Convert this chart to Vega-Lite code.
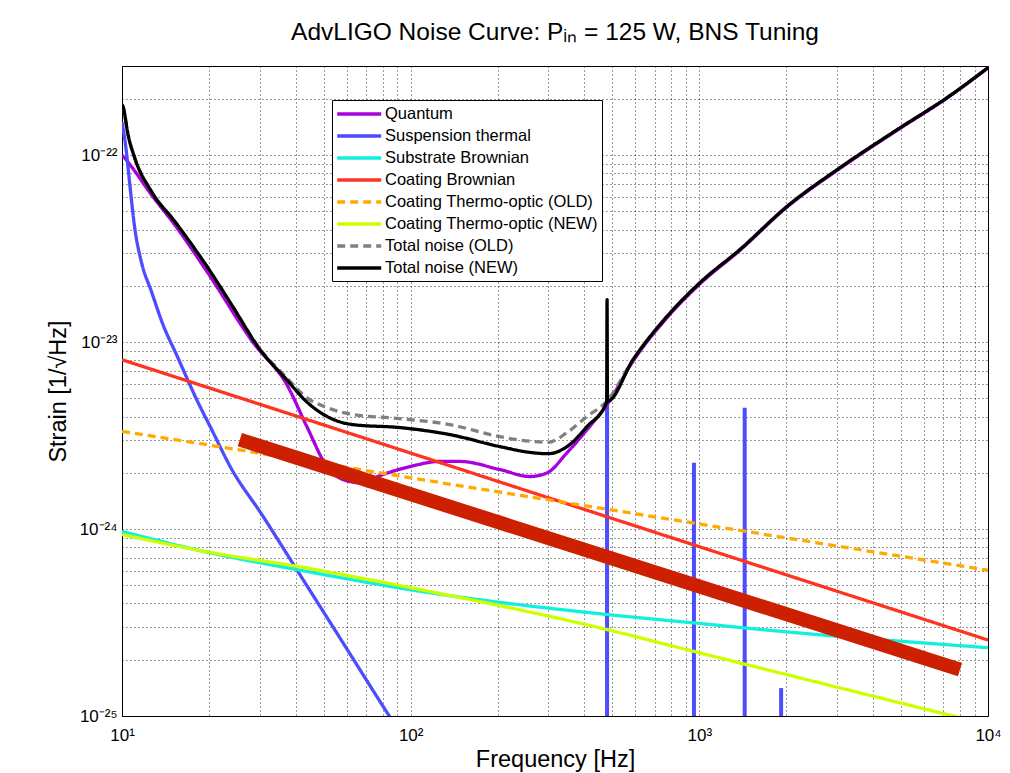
{
  "$schema": "https://vega.github.io/schema/vega-lite/v6.json",
  "autosize": {"type": "none"},
  "padding": {"left": 122, "top": 66, "right": 22, "bottom": 57},
  "width": 866,
  "height": 650,
  "background": "white",
  "title": {"text": "AdvLIGO Noise Curve: Pᵢₙ = 125 W, BNS Tuning", "fontSize": 24.5, "font": "Liberation Sans", "fontWeight": "normal", "offset": 21, "anchor": "middle", "color": "black"},
  "datasets": {
    "curves": [
      {"series": "Quantum", "freq": 10, "strain": 1.0e-22},
      {"series": "Quantum", "freq": 10.22, "strain": 9.66e-23},
      {"series": "Quantum", "freq": 10.77, "strain": 8.71e-23},
      {"series": "Quantum", "freq": 12.64, "strain": 6.15e-23},
      {"series": "Quantum", "freq": 15.22, "strain": 4.25e-23},
      {"series": "Quantum", "freq": 19.86, "strain": 2.34e-23},
      {"series": "Quantum", "freq": 28.4, "strain": 1.0e-23},
      {"series": "Quantum", "freq": 37.3, "strain": 5.9e-24},
      {"series": "Quantum", "freq": 43.7, "strain": 3.53e-24},
      {"series": "Quantum", "freq": 51.3, "strain": 2.16e-24},
      {"series": "Quantum", "freq": 58.3, "strain": 1.84e-24},
      {"series": "Quantum", "freq": 66.8, "strain": 1.77e-24},
      {"series": "Quantum", "freq": 80.2, "strain": 1.96e-24},
      {"series": "Quantum", "freq": 99.5, "strain": 2.16e-24},
      {"series": "Quantum", "freq": 126.4, "strain": 2.30e-24},
      {"series": "Quantum", "freq": 148, "strain": 2.30e-24},
      {"series": "Quantum", "freq": 204, "strain": 2.08e-24},
      {"series": "Quantum", "freq": 259, "strain": 1.91e-24},
      {"series": "Quantum", "freq": 297, "strain": 2.0e-24},
      {"series": "Quantum", "freq": 348, "strain": 2.56e-24},
      {"series": "Quantum", "freq": 408, "strain": 3.40e-24},
      {"series": "Quantum", "freq": 479, "strain": 4.63e-24},
      {"series": "Quantum", "freq": 589, "strain": 7.9e-24},
      {"series": "Quantum", "freq": 772, "strain": 1.35e-23},
      {"series": "Quantum", "freq": 1005, "strain": 2.05e-23},
      {"series": "Quantum", "freq": 1383, "strain": 3.1e-23},
      {"series": "Quantum", "freq": 2013, "strain": 5.28e-23},
      {"series": "Quantum", "freq": 3070, "strain": 8.5e-23},
      {"series": "Quantum", "freq": 4955, "strain": 1.39e-22},
      {"series": "Quantum", "freq": 7210, "strain": 2.02e-22},
      {"series": "Quantum", "freq": 10000, "strain": 2.93e-22},

      {"series": "Suspension thermal", "freq": 10, "strain": 1.5e-22},
      {"series": "Suspension thermal", "freq": 10.08, "strain": 1.40e-22},
      {"series": "Suspension thermal", "freq": 10.35, "strain": 1.05e-22},
      {"series": "Suspension thermal", "freq": 10.63, "strain": 7.1e-23},
      {"series": "Suspension thermal", "freq": 11.07, "strain": 4.08e-23},
      {"series": "Suspension thermal", "freq": 11.66, "strain": 2.70e-23},
      {"series": "Suspension thermal", "freq": 12.64, "strain": 1.87e-23},
      {"series": "Suspension thermal", "freq": 13.87, "strain": 1.24e-23},
      {"series": "Suspension thermal", "freq": 15.5, "strain": 8.47e-24},
      {"series": "Suspension thermal", "freq": 18.14, "strain": 4.93e-24},
      {"series": "Suspension thermal", "freq": 20.5, "strain": 3.38e-24},
      {"series": "Suspension thermal", "freq": 23.66, "strain": 2.17e-24},
      {"series": "Suspension thermal", "freq": 30.8, "strain": 1.17e-24},
      {"series": "Suspension thermal", "freq": 40.3, "strain": 6.07e-25},
      {"series": "Suspension thermal", "freq": 55.4, "strain": 2.79e-25},
      {"series": "Suspension thermal", "freq": 83.6, "strain": 1.02e-25},
      {"series": "Suspension thermal", "freq": 95, "strain": 7.5e-26},

      {"series": "Substrate Brownian", "freq": 10, "strain": 9.73e-25},
      {"series": "Substrate Brownian", "freq": 20.2, "strain": 7.46e-25},
      {"series": "Substrate Brownian", "freq": 40.3, "strain": 6.07e-25},
      {"series": "Substrate Brownian", "freq": 107.7, "strain": 4.65e-25},
      {"series": "Substrate Brownian", "freq": 479, "strain": 3.49e-25},
      {"series": "Substrate Brownian", "freq": 953, "strain": 3.15e-25},
      {"series": "Substrate Brownian", "freq": 1903, "strain": 2.84e-25},
      {"series": "Substrate Brownian", "freq": 10000, "strain": 2.32e-25},

      {"series": "Coating Brownian", "freq": 10, "strain": 8.05e-24},
      {"series": "Coating Brownian", "freq": 100, "strain": 2.55e-24},
      {"series": "Coating Brownian", "freq": 1000, "strain": 8.05e-25},
      {"series": "Coating Brownian", "freq": 10000, "strain": 2.55e-25},

      {"series": "Coating Thermo-optic (OLD)", "freq": 10, "strain": 3.33e-24},
      {"series": "Coating Thermo-optic (OLD)", "freq": 22, "strain": 2.75e-24},
      {"series": "Coating Thermo-optic (OLD)", "freq": 100, "strain": 1.88e-24},
      {"series": "Coating Thermo-optic (OLD)", "freq": 1000, "strain": 1.065e-24},
      {"series": "Coating Thermo-optic (OLD)", "freq": 10000, "strain": 6.02e-25},

      {"series": "Coating Thermo-optic (NEW)", "freq": 10, "strain": 9.35e-25},
      {"series": "Coating Thermo-optic (NEW)", "freq": 20.2, "strain": 7.5e-25},
      {"series": "Coating Thermo-optic (NEW)", "freq": 40.3, "strain": 6.32e-25},
      {"series": "Coating Thermo-optic (NEW)", "freq": 107.7, "strain": 4.75e-25},
      {"series": "Coating Thermo-optic (NEW)", "freq": 479, "strain": 2.90e-25},
      {"series": "Coating Thermo-optic (NEW)", "freq": 953, "strain": 2.22e-25},
      {"series": "Coating Thermo-optic (NEW)", "freq": 1903, "strain": 1.70e-25},
      {"series": "Coating Thermo-optic (NEW)", "freq": 7194, "strain": 1.02e-25},
      {"series": "Coating Thermo-optic (NEW)", "freq": 10000, "strain": 9.0e-26},

      {"series": "Total noise (OLD)", "freq": 10, "strain": 1.86e-22},
      {"series": "Total noise (OLD)", "freq": 10.08, "strain": 1.82e-22},
      {"series": "Total noise (OLD)", "freq": 10.49, "strain": 1.29e-22},
      {"series": "Total noise (OLD)", "freq": 11.07, "strain": 9.66e-23},
      {"series": "Total noise (OLD)", "freq": 12.64, "strain": 6.40e-23},
      {"series": "Total noise (OLD)", "freq": 15.22, "strain": 4.43e-23},
      {"series": "Total noise (OLD)", "freq": 19.86, "strain": 2.49e-23},
      {"series": "Total noise (OLD)", "freq": 24, "strain": 1.58e-23},
      {"series": "Total noise (OLD)", "freq": 30.06, "strain": 9.2e-24},
      {"series": "Total noise (OLD)", "freq": 37.2, "strain": 6.45e-24},
      {"series": "Total noise (OLD)", "freq": 43.6, "strain": 5.05e-24},
      {"series": "Total noise (OLD)", "freq": 51.2, "strain": 4.47e-24},
      {"series": "Total noise (OLD)", "freq": 63.1, "strain": 4.10e-24},
      {"series": "Total noise (OLD)", "freq": 91.8, "strain": 3.90e-24},
      {"series": "Total noise (OLD)", "freq": 136.8, "strain": 3.62e-24},
      {"series": "Total noise (OLD)", "freq": 204, "strain": 3.12e-24},
      {"series": "Total noise (OLD)", "freq": 265, "strain": 2.94e-24},
      {"series": "Total noise (OLD)", "freq": 299, "strain": 2.91e-24},
      {"series": "Total noise (OLD)", "freq": 348, "strain": 3.28e-24},
      {"series": "Total noise (OLD)", "freq": 408, "strain": 4.0e-24},
      {"series": "Total noise (OLD)", "freq": 479, "strain": 4.85e-24},
      {"series": "Total noise (OLD)", "freq": 589, "strain": 8.05e-24},
      {"series": "Total noise (OLD)", "freq": 772, "strain": 1.37e-23},
      {"series": "Total noise (OLD)", "freq": 1005, "strain": 2.08e-23},
      {"series": "Total noise (OLD)", "freq": 1383, "strain": 3.13e-23},
      {"series": "Total noise (OLD)", "freq": 2013, "strain": 5.32e-23},
      {"series": "Total noise (OLD)", "freq": 3070, "strain": 8.57e-23},
      {"series": "Total noise (OLD)", "freq": 4955, "strain": 1.40e-22},
      {"series": "Total noise (OLD)", "freq": 7210, "strain": 2.03e-22},
      {"series": "Total noise (OLD)", "freq": 10000, "strain": 2.94e-22},

      {"series": "Total noise (NEW)", "freq": 10, "strain": 1.86e-22},
      {"series": "Total noise (NEW)", "freq": 10.08, "strain": 1.82e-22},
      {"series": "Total noise (NEW)", "freq": 10.49, "strain": 1.29e-22},
      {"series": "Total noise (NEW)", "freq": 11.07, "strain": 9.66e-23},
      {"series": "Total noise (NEW)", "freq": 12.64, "strain": 6.40e-23},
      {"series": "Total noise (NEW)", "freq": 15.22, "strain": 4.43e-23},
      {"series": "Total noise (NEW)", "freq": 19.86, "strain": 2.49e-23},
      {"series": "Total noise (NEW)", "freq": 24, "strain": 1.58e-23},
      {"series": "Total noise (NEW)", "freq": 30.06, "strain": 9.12e-24},
      {"series": "Total noise (NEW)", "freq": 37.2, "strain": 6.29e-24},
      {"series": "Total noise (NEW)", "freq": 43.6, "strain": 4.80e-24},
      {"series": "Total noise (NEW)", "freq": 51.2, "strain": 4.01e-24},
      {"series": "Total noise (NEW)", "freq": 63.1, "strain": 3.62e-24},
      {"series": "Total noise (NEW)", "freq": 91.8, "strain": 3.49e-24},
      {"series": "Total noise (NEW)", "freq": 136.8, "strain": 3.20e-24},
      {"series": "Total noise (NEW)", "freq": 204, "strain": 2.76e-24},
      {"series": "Total noise (NEW)", "freq": 265, "strain": 2.56e-24},
      {"series": "Total noise (NEW)", "freq": 299, "strain": 2.53e-24},
      {"series": "Total noise (NEW)", "freq": 348, "strain": 2.76e-24},
      {"series": "Total noise (NEW)", "freq": 408, "strain": 3.53e-24},
      {"series": "Total noise (NEW)", "freq": 477.5, "strain": 4.78e-24},
      {"series": "Total noise (NEW)", "freq": 479, "strain": 1.69e-23},
      {"series": "Total noise (NEW)", "freq": 480.5, "strain": 4.83e-24},
      {"series": "Total noise (NEW)", "freq": 589, "strain": 8.05e-24},
      {"series": "Total noise (NEW)", "freq": 772, "strain": 1.37e-23},
      {"series": "Total noise (NEW)", "freq": 1005, "strain": 2.08e-23},
      {"series": "Total noise (NEW)", "freq": 1383, "strain": 3.13e-23},
      {"series": "Total noise (NEW)", "freq": 2013, "strain": 5.32e-23},
      {"series": "Total noise (NEW)", "freq": 3070, "strain": 8.57e-23},
      {"series": "Total noise (NEW)", "freq": 4955, "strain": 1.40e-22},
      {"series": "Total noise (NEW)", "freq": 7210, "strain": 2.03e-22},
      {"series": "Total noise (NEW)", "freq": 10000, "strain": 2.94e-22}
    ],
    "modes": [
      {"freq": 479, "strain": 4.7e-24},
      {"freq": 958, "strain": 2.26e-24},
      {"freq": 1436, "strain": 4.45e-24},
      {"freq": 1920, "strain": 1.41e-25}
    ],
    "band": [
      {"freq": 25.6, "strain": 3.01e-24},
      {"freq": 8000, "strain": 1.77e-25}
    ]
  },
  "encoding": {
    "x": {
      "field": "freq", "type": "quantitative",
      "scale": {"type": "log", "domain": [10, 10000], "nice": false},
      "axis": {
        "title": "Frequency [Hz]",
        "values": [10,20,30,40,50,60,70,80,90,100,200,300,400,500,600,700,800,900,1000,2000,3000,4000,5000,6000,7000,8000,9000,10000],
        "labelExpr": "datum.value == 10 ? '10¹' : datum.value == 100 ? '10²' : datum.value == 1000 ? '10³' : datum.value == 10000 ? '10⁴' : ''",
        "labelFlush": false, "labelOverlap": false, "labelPadding": 11, "ticks": false, "titlePadding": 4
      }
    },
    "y": {
      "field": "strain", "type": "quantitative",
      "scale": {"type": "log", "domain": [1e-25, 3e-22], "nice": false},
      "axis": {
        "title": "Strain [1/√Hz]",
        "values": [1e-25,2e-25,3e-25,4e-25,5e-25,6e-25,7e-25,8e-25,9e-25,1e-24,2e-24,3e-24,4e-24,5e-24,6e-24,7e-24,8e-24,9e-24,1e-23,2e-23,3e-23,4e-23,5e-23,6e-23,7e-23,8e-23,9e-23,1e-22,2e-22],
        "labelExpr": "datum.value == 1e-25 ? '10⁻²⁵' : datum.value == 1e-24 ? '10⁻²⁴' : datum.value == 1e-23 ? '10⁻²³' : datum.value == 1e-22 ? '10⁻²²' : ''",
        "labelFlush": false, "labelOverlap": false, "labelPadding": 5, "ticks": false, "titlePadding": 9
      }
    }
  },
  "layer": [
    {
      "data": {"name": "modes"},
      "mark": {"type": "rule", "color": "#4d4dff", "strokeWidth": 4, "clip": true},
      "encoding": {"y2": {"datum": 1e-25}}
    },
    {
      "data": {"name": "curves"},
      "mark": {"type": "line", "strokeWidth": 3.3, "clip": true, "strokeJoin": "round", "interpolate": "monotone"},
      "encoding": {
        "color": {
          "field": "series", "type": "nominal",
          "scale": {
            "domain": ["Quantum", "Suspension thermal", "Substrate Brownian", "Coating Brownian", "Coating Thermo-optic (OLD)", "Coating Thermo-optic (NEW)", "Total noise (OLD)", "Total noise (NEW)"],
            "range": ["#aa00dd", "#4d4dff", "#11f0dd", "#ff3322", "#ffaa00", "#ccff00", "#808080", "#000000"]
          },
          "legend": {"title": null}
        },
        "strokeDash": {
          "field": "series", "type": "nominal",
          "scale": {
            "domain": ["Quantum", "Suspension thermal", "Substrate Brownian", "Coating Brownian", "Coating Thermo-optic (OLD)", "Coating Thermo-optic (NEW)", "Total noise (OLD)", "Total noise (NEW)"],
            "range": [[1,0],[1,0],[1,0],[1,0],[8,5],[1,0],[8,5],[1,0]]
          },
          "legend": {"title": null}
        }
      }
    },
    {
      "data": {"name": "band"},
      "mark": {"type": "line", "color": "#cc2000", "strokeWidth": 14, "strokeCap": "butt", "clip": true},
      "encoding": {}
    }
  ],
  "config": {
    "font": "Liberation Sans",
    "view": {"stroke": "black", "strokeWidth": 1},
    "axis": {
      "domainColor": "black", "gridColor": "#111", "gridDash": [1, 3], "gridOpacity": 0.85, "gridWidth": 1,
      "labelColor": "black", "titleColor": "black", "labelFont": "Liberation Sans", "titleFont": "Liberation Sans",
      "titleFontWeight": "normal", "labelFontSize": 17, "titleFontSize": 23.5
    },
    "legend": {
      "orient": "none", "legendX": 210, "legendY": 34,
      "fillColor": "white", "strokeColor": "black", "padding": 4, "cornerRadius": 0,
      "labelFont": "Liberation Sans", "labelFontSize": 16.5, "labelColor": "black", "labelLimit": 400,
      "symbolType": "M-1.1,0H4.4", "symbolSize": 256, "symbolStrokeWidth": 3.5, "labelOffset": 29,
      "rowPadding": 3
    }
  }
}
